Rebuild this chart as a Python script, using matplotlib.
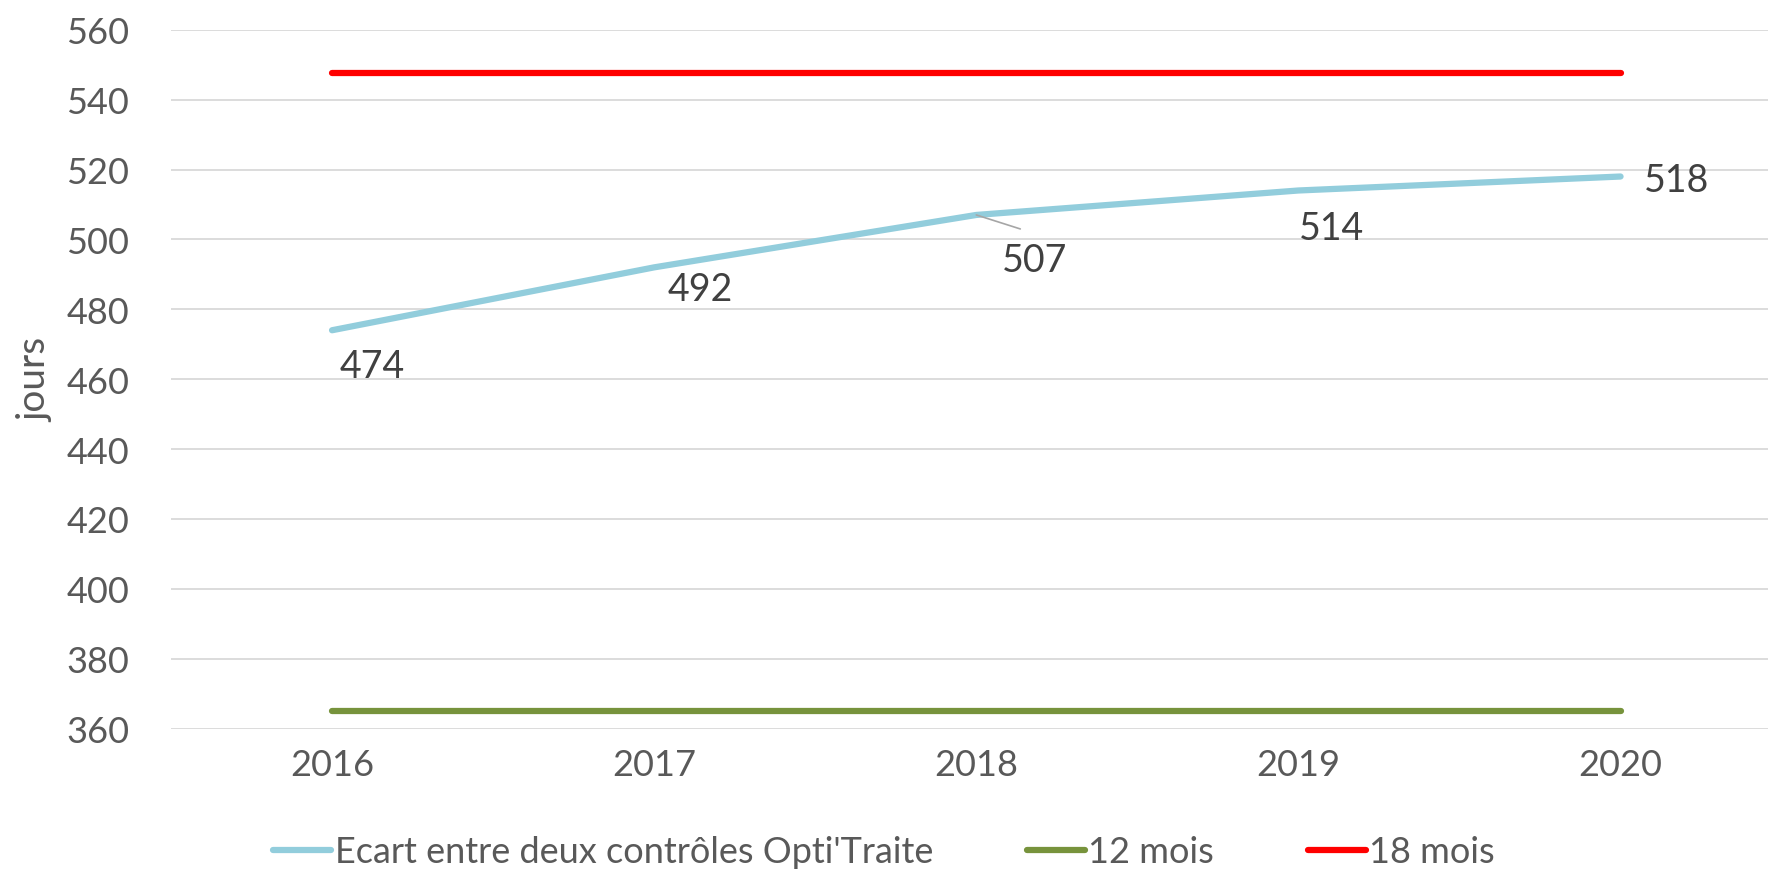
import matplotlib
matplotlib.use("Agg")
import matplotlib.pyplot as plt

years = ["2016", "2017", "2018", "2019", "2020"]
ecart = [474, 492, 507, 514, 518]
douze_mois = [365, 365, 365, 365, 365]
dixhuit_mois = [547.5, 547.5, 547.5, 547.5, 547.5]

# label offsets in pixels (dx, dy) relative to each point
label_offsets = [(40, -36), (46, -22), (58, -45), (33, -38), (56, -3)]

plt.rcParams['font.family'] = ['Lato', 'DejaVu Sans']

fig = plt.figure(figsize=(17.68, 8.79), dpi=100)
ax = fig.add_axes([0.0967, 0.170, 0.911, 0.795])

x = list(range(len(years)))
ax.plot(x, ecart, color='#92CDDC', lw=4.5, solid_capstyle='round',
        label="Ecart entre deux contrôles Opti'Traite")
ax.plot(x, douze_mois, color='#77933C', lw=4.5, solid_capstyle='round', label='12 mois')
ax.plot(x, dixhuit_mois, color='#FF0000', lw=4.5, solid_capstyle='round', label='18 mois')

for i, v in enumerate(ecart):
    dx, dy = label_offsets[i]
    ax.annotate(str(v), (i, v), xytext=(dx, dy), textcoords='offset pixels',
                ha='center', va='center', fontsize=27, color='#404040')

# leader line for the 2018 label
ax.annotate('', (2, 507), xytext=(44, -14), textcoords='offset pixels',
            arrowprops=dict(arrowstyle='-', color='#A6A6A6', lw=1.2,
                            shrinkA=0, shrinkB=0))

ax.set_xlim(-0.5, 4.5)
ax.set_ylim(360, 560)
ax.set_yticks(range(360, 561, 20))
ax.set_xticks(x)
ax.set_xticklabels(years)
ax.grid(axis='y', color='#D9D9D9', lw=1.3)
ax.set_axisbelow(True)
for s in ax.spines.values():
    s.set_visible(False)
ax.tick_params(length=0, labelsize=26, colors='#595959', pad=14)
ax.tick_params(axis='y', pad=30)
ax.set_ylabel('jours', fontsize=28, color='#595959')
ax.yaxis.set_label_coords(-0.073, 0.5)

fig.legend(loc='lower center', bbox_to_anchor=(0.5, -0.026), ncol=3, frameon=False,
           fontsize=26, labelcolor='#595959', handlelength=1.6, handletextpad=0.1,
           columnspacing=2.6)

fig.savefig('out.png', dpi=100)
